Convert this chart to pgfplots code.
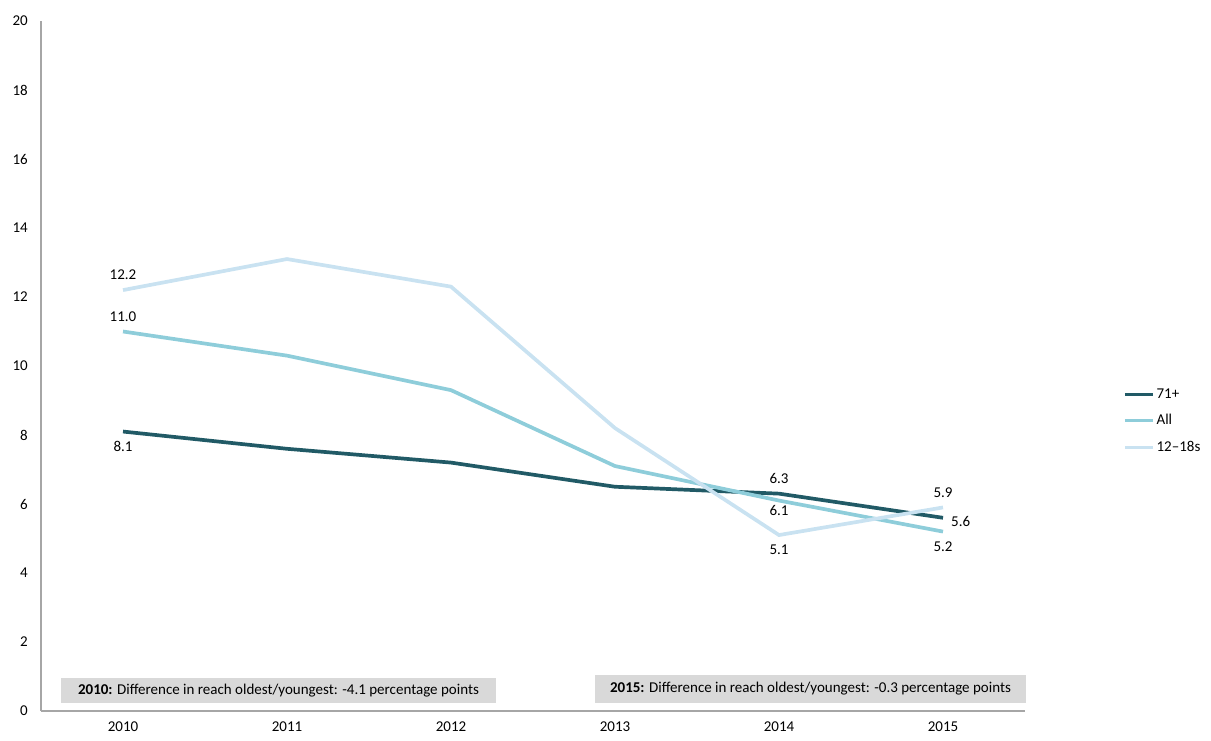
\documentclass[border=0pt]{standalone}
\usepackage{fontspec}
\setmainfont{Carlito}
\usepackage{pgfplots}
\pgfplotsset{compat=1.18}
\definecolor{cOld}{HTML}{215A66}
\definecolor{cAll}{HTML}{8ECDDA}
\definecolor{cYoung}{HTML}{C9E2F1}
\definecolor{axgray}{HTML}{A6A6A6}
\definecolor{boxgray}{HTML}{D9D9D9}
\begin{document}
\fontsize{15pt}{17pt}\selectfont
\begin{tikzpicture}[x=1pt,y=1pt]
\useasboundingbox (0,0) rectangle (1211,740);
\begin{axis}[
  at={(41pt,29pt)}, anchor=south west,
  scale only axis, width=984pt, height=690pt,
  xmin=-0.5, xmax=5.5, ymin=0, ymax=20,
  xtick={0,1,2,3,4,5},
  xticklabels={2010,2011,2012,2013,2014,2015},
  ytick={0,2,4,6,8,10,12,14,16,18,20},
  /pgf/number format/assume math mode=true,
  ticklabel style={font=\fontsize{15pt}{17pt}\selectfont},
  xticklabel style={yshift=-6pt},
  yticklabel style={xshift=-8pt},
  axis x line*=bottom, axis y line*=left,
  axis line style={axgray, line width=1.2pt, -},
  tick style={draw=none},
  clip=false,
  legend style={at={(rel axis cs:1.0995,0.4203)}, anchor=west, draw=none, fill=none,
    font=\fontsize{15pt}{17pt}\selectfont, row sep=10pt,
    legend cell align=left, inner sep=0pt},
  legend image code/.code={\draw[#1, line width=3.5pt] (0pt,0pt) -- (28pt,0pt);},
]
\addplot[cOld, line width=3.7pt, no markers] coordinates {(0,8.1) (1,7.6) (2,7.2) (3,6.5) (4,6.3) (5,5.6)};
\addplot[cAll, line width=3.7pt, no markers] coordinates {(0,11.0) (1,10.3) (2,9.3) (3,7.1) (4,6.1) (5,5.2)};
\addplot[cYoung, line width=3.7pt, no markers] coordinates {(0,12.2) (1,13.1) (2,12.3) (3,8.2) (4,5.1) (5,5.9)};
\legend{71+,All,12--18s}
\node[above=5pt] at (axis cs:0,12.2) {12.2};
\node[above=5pt] at (axis cs:0,11.0) {11.0};
\node[below=5pt] at (axis cs:0,8.1) {8.1};
\node[above=5pt] at (axis cs:4,6.3) {6.3};
\node[below=0pt] at (axis cs:4,6.1) {6.1};
\node[below=5pt] at (axis cs:4,5.1) {5.1};
\node[above=5pt] at (axis cs:5,5.9) {5.9};
\node[right=3pt, yshift=-4pt] at (axis cs:5,5.6) {5.6};
\node[below=5pt] at (axis cs:5,5.2) {5.2};
\end{axis}
\fill[boxgray] (61,37) rectangle (496,62);
\node at (278.5,49.5) {\textbf{2010:} Difference in reach oldest/youngest: -4.1 percentage points};
\fill[boxgray] (595,37) rectangle (1026,65);
\node at (810.5,51) {\textbf{2015:} Difference in reach oldest/youngest: -0.3 percentage points};
\end{tikzpicture}
\end{document}
